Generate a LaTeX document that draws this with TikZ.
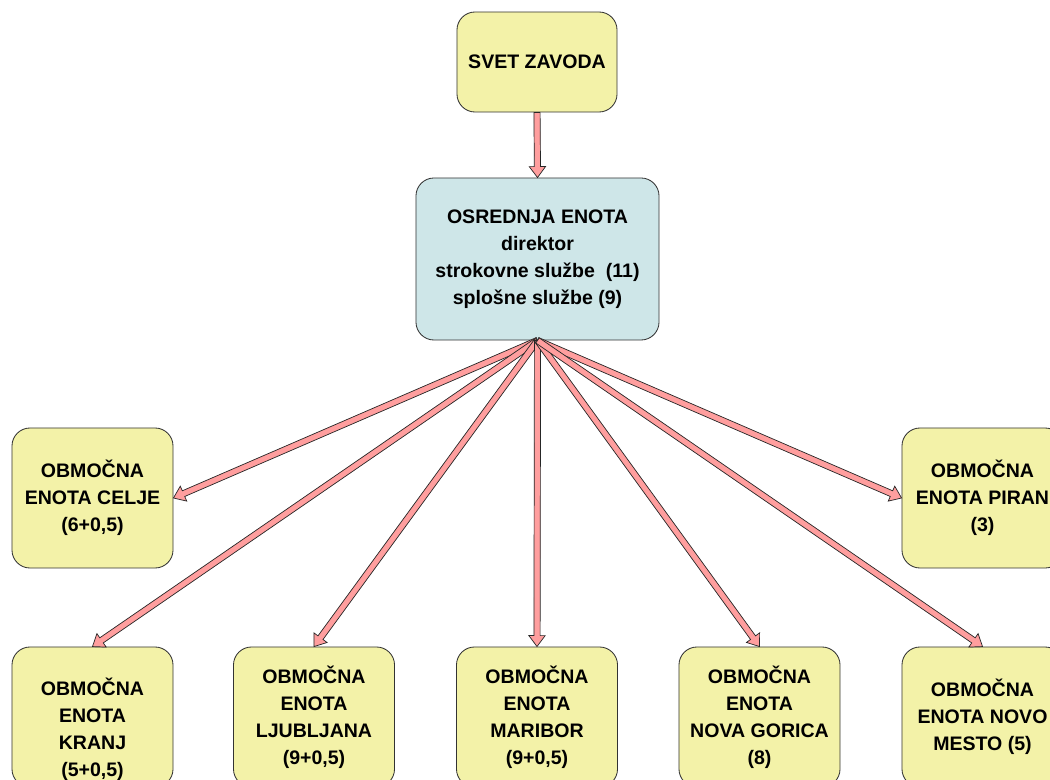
\documentclass[tikz,border=0pt]{standalone}
\usepackage{fontspec}
\setmainfont{Liberation Sans}
\usepackage{xcolor}
\usetikzlibrary{calc}
\definecolor{boxyellow}{RGB}{243,242,168}
\definecolor{boxblue}{RGB}{206,230,232}
\definecolor{arrowpink}{RGB}{255,158,158}
\tikzset{
	box/.style={draw=black!80, line width=0.6pt, rounded corners=0.45cm, align=center,
			inner sep=0pt, font=\bfseries\fontsize{13.9}{19.2}\selectfont},
	unit/.style={box, fill=boxyellow, minimum width=4.025cm, minimum height=3.5cm}
}
\newcommand{\flow}[2]{%
	\draw[draw=black!85, line width=0.5pt, fill=arrowpink]
	let \p1=(#1), \p2=(#2), \n1={atan2(\y2-\y1,\x2-\x1)}, \n2={veclen(\x2-\x1,\y2-\y1)} in
	($(\p1)+(\n1+90:2.2pt)$) -- ($(\p1)+(\n1:\n2-7.8pt)+(\n1+90:2.2pt)$)
	-- ($(\p1)+(\n1:\n2-7.8pt)+(\n1+90:5.8pt)$) -- (\p2)
	-- ($(\p1)+(\n1:\n2-7.8pt)+(\n1-90:5.8pt)$) -- ($(\p1)+(\n1:\n2-7.8pt)+(\n1-90:2.2pt)$)
	-- ($(\p1)+(\n1-90:2.2pt)$) -- cycle;
}
\begin{document}
\begin{tikzpicture}[x=0.025cm, y=-0.025cm]
	\useasboundingbox (0,0) rectangle (1050,780);

	\node[box, fill=boxyellow, minimum width=4cm, minimum height=2.5cm] (svet) at (537,62) {SVET ZAVODA};
	\node[box, fill=boxblue, minimum width=6.075cm, minimum height=4.05cm] (osrednja) at (537.5,259)
		{OSREDNJA ENOTA\\direktor\\strokovne službe\ \ (11)\\splošne službe (9)};

	\node[unit] (celje) at (92.5,498) {OBMOČNA\\ENOTA CELJE\\(6+0,5)};
	\node[unit] (piran) at (982.5,498) {OBMOČNA\\ENOTA PIRAN\\(3)};

	\node[unit] (kranj) at (92.5,717) {\mbox{}\\[11pt]OBMOČNA\\ENOTA\\KRANJ\\(5+0,5)};
	\node[unit] (ljubljana) at (314,717) {OBMOČNA\\ENOTA\\LJUBLJANA\\(9+0,5)};
	\node[unit] (maribor) at (537,717) {OBMOČNA\\ENOTA\\MARIBOR\\(9+0,5)};
	\node[unit] (gorica) at (759.5,717) {OBMOČNA\\ENOTA\\NOVA GORICA\\(8)};
	\node[unit] (novomesto) at (982.5,717) {OBMOČNA\\ENOTA NOVO\\MESTO (5)};

	\flow{svet.south}{osrednja.north}
	\flow{osrednja.south}{celje.east}
	\flow{osrednja.south}{piran.west}
	\flow{osrednja.south}{kranj.north}
	\flow{osrednja.south}{ljubljana.north}
	\flow{osrednja.south}{maribor.north}
	\flow{osrednja.south}{gorica.north}
	\flow{osrednja.south}{novomesto.north}

\end{tikzpicture}
\end{document}
